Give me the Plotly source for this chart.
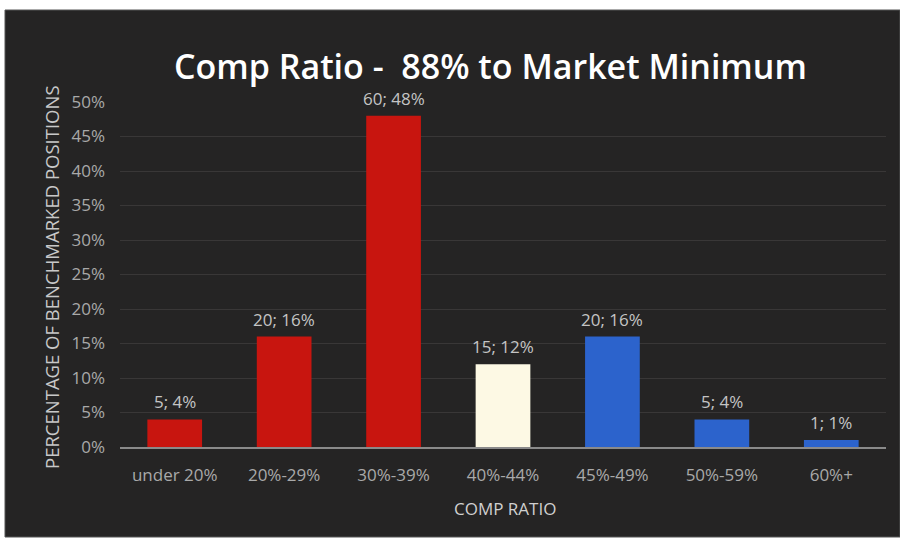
import plotly.graph_objects as go

# Comp ratio bands, headcount per band and share of benchmarked positions
categories = ["under 20%", "20%-29%", "30%-39%", "40%-44%", "45%-49%", "50%-59%", "60%+"]
counts = [5, 20, 60, 15, 20, 5, 1]
shares = [4, 16, 48, 12, 16, 4, 1]
bar_colors = ["#c8150f", "#c8150f", "#c8150f", "#fdf9e4", "#2c63cc", "#2c63cc", "#2c63cc"]
y_ticks = list(range(0, 51, 5))

W, H = 900, 540
L, R, T, B = 120, 14, 102, 93
pw, ph = W - L - R, H - T - B


def px_x(x):
    return (x - L) / pw


def px_y(y):
    return (H - y - B) / ph


labels = [f"{c}; {s}%" for c, s in zip(counts, shares)]

fig = go.Figure()
fig.add_trace(go.Bar(
    x=categories,
    y=shares,
    marker=dict(color=bar_colors, line=dict(width=0)),
    hoverinfo="skip",
))

# value labels sit a little above each bar
value_labels = [
    dict(x=cat, y=val, xref="x", yref="y", text=txt, showarrow=False,
         yanchor="bottom", yshift=4,
         font=dict(family="Open Sans", size=17, color="#c4c4c4"))
    for cat, val, txt in zip(categories, shares, labels)
]

fig.update_layout(
    width=W,
    height=H,
    margin=dict(l=L, r=R, t=T, b=B),
    paper_bgcolor="#ffffff",
    plot_bgcolor="rgba(0,0,0,0)",
    bargap=0.5,
    showlegend=False,
    shapes=[
        dict(type="rect", xref="paper", yref="paper", layer="below",
             x0=px_x(5), x1=px_x(900), y0=px_y(537), y1=px_y(10),
             fillcolor="#252424", line=dict(color="#555555", width=1)),
    ],
    annotations=value_labels + [
        dict(text="Comp Ratio -  88% to Market Minimum", xref="paper", yref="paper",
             x=px_x(490), y=px_y(66), xanchor="center", yanchor="middle",
             showarrow=False,
             font=dict(family="Open Sans", size=34, color="#ffffff", weight=600)),
        dict(text="PERCENTAGE OF BENCHMARKED POSITIONS", xref="paper", yref="paper",
             x=px_x(51), y=px_y(277), xanchor="center", yanchor="middle",
             textangle=-90, showarrow=False,
             font=dict(family="Open Sans", size=18.5, color="#c8c8c8")),
        dict(text="COMP RATIO", xref="paper", yref="paper",
             x=px_x(505), y=px_y(508), xanchor="center", yanchor="middle",
             showarrow=False,
             font=dict(family="Open Sans", size=17, color="#d0d0d0")),
    ],
    xaxis=dict(
        showgrid=False,
        showline=True,
        linecolor="#8a8a8a",
        linewidth=2,
        ticks="",
        tickfont=dict(family="Open Sans", size=17, color="#a9a9a9"),
        ticklabelstandoff=12,
        fixedrange=True,
    ),
    yaxis=dict(
        range=[0, 50],
        tickvals=y_ticks,
        ticktext=[f"{v}%" for v in y_ticks],
        showgrid=True,
        gridcolor="#393737",
        gridwidth=1,
        zeroline=False,
        showline=False,
        ticks="",
        tickfont=dict(family="Open Sans", size=17, color="#a9a9a9"),
        ticklabelstandoff=14,
        fixedrange=True,
    ),
)

fig.write_html("out.html")
